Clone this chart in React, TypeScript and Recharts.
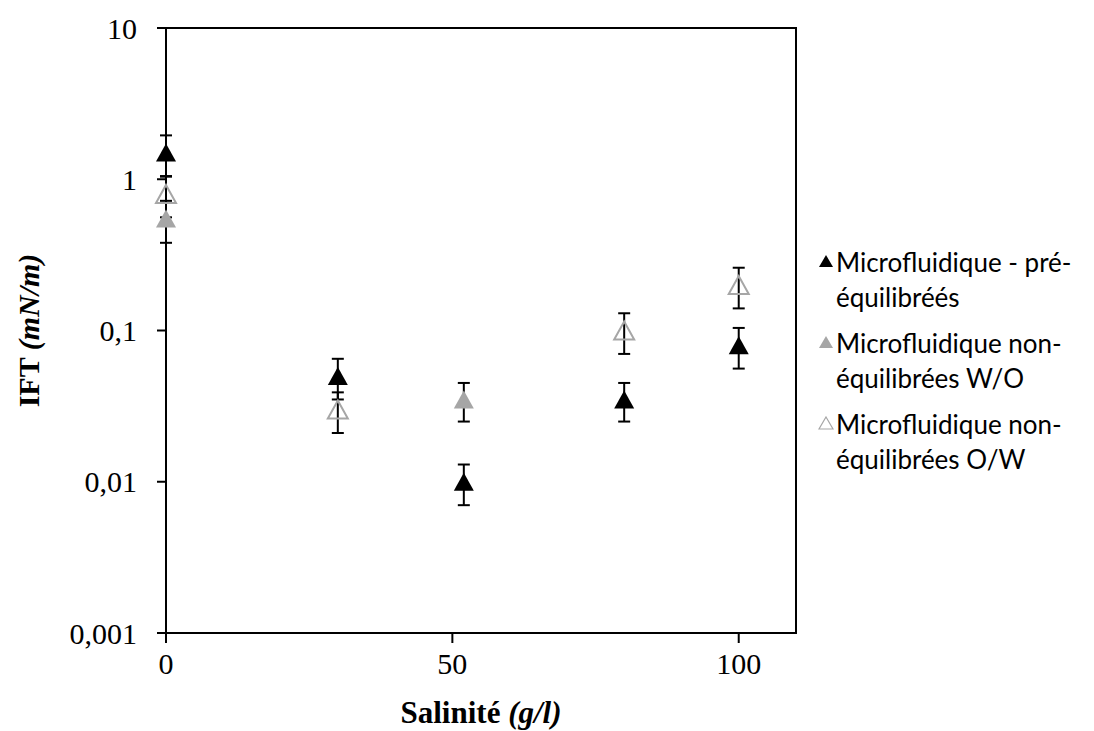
import React from 'react';
import { ScatterChart, Scatter, XAxis, YAxis, ErrorBar, ReferenceArea, Label } from 'recharts';

// salinity (g/l), IFT (mN/m), +/- error
const preX = [0, 30, 52, 80, 100];
const preY = [1.5, 0.05, 0.01, 0.035, 0.08];
const preErr = [0.45, 0.015, 0.003, 0.01, 0.024];

const woX = [0, 52];
const woY = [0.55, 0.035];
const woErr = [0.17, 0.01];

const owX = [0, 30, 80, 100];
const owY = [0.8, 0.03, 0.1, 0.2];
const owErr = [0.24, 0.009, 0.03, 0.06];

const xTicks = [0, 50, 100];
const yTicks = [0.001, 0.01, 0.1, 1, 10];

const seriesLabels = [
    ['Microfluidique - pré-', 'équilibréés'],
    ['Microfluidique non-', 'équilibrées W/O'],
    ['Microfluidique non-', 'équilibrées O/W'],
];

const SERIF = '"Liberation Serif", "Times New Roman", serif';
const SANS = 'Lato, "Open Sans", sans-serif';
const GREY = '#a6a6a6';

const toRows = (xs: number[], ys: number[], errs: number[]) =>
    xs.map((x, i) => ({ x, y: ys[i], err: errs[i] }));

const preData = toRows(preX, preY, preErr);
const woData = toRows(woX, woY, woErr);
const owData = toRows(owX, owY, owErr);

const styles = [
    { fill: '#000', stroke: 'none' },
    { fill: GREY, stroke: 'none' },
    { fill: 'none', stroke: GREY },
];

function Triangle({ cx, cy, fill, stroke }: any) {
    if (cx == null || cy == null) return null;
    const w = 20, h = 18;
    const pts = `${cx},${cy - h / 2} ${cx + w / 2},${cy + h / 2} ${cx - w / 2},${cy + h / 2}`;
    return <polygon points={pts} fill={fill} stroke={stroke} strokeWidth={stroke === 'none' ? 0 : 2} />;
}

function XTitle({ viewBox }: any) {
    const { x, y, width } = viewBox;
    return (
        <text x={x + width / 2} y={y + 90} textAnchor="middle" fontFamily={SERIF} fontWeight="bold" fontSize={31} fill="#000">
            Salinité <tspan fontStyle="italic">(g/l)</tspan>
        </text>
    );
}

function YTitle({ viewBox }: any) {
    const { y, height } = viewBox;
    const cx = 28, cy = y + height / 2;
    return (
        <text x={cx} y={cy} transform={`rotate(-90, ${cx}, ${cy})`} textAnchor="middle" dominantBaseline="central"
            fontFamily={SERIF} fontWeight="bold" fontSize={30} fill="#000">
            IFT <tspan fontStyle="italic">(mN/m)</tspan>
        </text>
    );
}

function LegendIcon({ fill, stroke }: any) {
    return (
        <svg width={16} height={14} style={{ flexShrink: 0, marginTop: 9, marginRight: 2 }}>
            <polygon points="8,1 15,13 1,13" fill={fill} stroke={stroke} strokeWidth={stroke === 'none' ? 0 : 1.2} />
        </svg>
    );
}

export default function App() {
    return (
        <div style={{ position: 'relative', width: 1094, height: 731, background: '#fff' }}>
            <style>{'body{margin:0}'}</style>
            <ScatterChart width={1094} height={731} margin={{ top: 28, right: 298, bottom: 0, left: 0 }}>
                <XAxis
                    type="number"
                    dataKey="x"
                    domain={[0, 110]}
                    ticks={xTicks}
                    tickSize={10}
                    tickMargin={10}
                    height={98}
                    axisLine={{ stroke: '#000', strokeWidth: 2 }}
                    tickLine={{ stroke: '#000', strokeWidth: 2 }}
                    tick={{ fontFamily: SERIF, fontSize: 30, fill: '#000' }}
                >
                    <Label content={<XTitle />} />
                </XAxis>
                <YAxis
                    type="number"
                    dataKey="y"
                    scale="log"
                    domain={[0.001, 10]}
                    ticks={yTicks}
                    allowDataOverflow
                    width={166}
                    tickSize={9}
                    tickMargin={20}
                    tickFormatter={(v: number) => String(v).replace('.', ',')}
                    axisLine={{ stroke: '#000', strokeWidth: 2 }}
                    tickLine={{ stroke: '#000', strokeWidth: 2 }}
                    tick={{ fontFamily: SERIF, fontSize: 30, fill: '#000' }}
                >
                    <Label content={<YTitle />} />
                </YAxis>
                <ReferenceArea x1={0} x2={110} y1={0.001} y2={10} fill="none" stroke="#000" strokeWidth={2} />
                {[preData, woData, owData].map((data, i) => (
                    <Scatter
                        key={i}
                        name={seriesLabels[i].join(' ')}
                        data={data}
                        isAnimationActive={false}
                        shape={<Triangle fill={styles[i].fill} stroke={styles[i].stroke} />}
                    >
                        <ErrorBar dataKey="err" direction="y" width={6} stroke="#000" strokeWidth={2} isAnimationActive={false} />
                    </Scatter>
                ))}
            </ScatterChart>
            <div style={{ position: 'absolute', left: 818, top: 245, fontFamily: SANS, fontSize: 26, lineHeight: '35px', color: '#000' }}>
                {seriesLabels.map((lines, i) => (
                    <div key={i} style={{ display: 'flex', marginBottom: 11 }}>
                        <LegendIcon fill={styles[i].fill} stroke={styles[i].stroke} />
                        <div>
                            {lines[0]}
                            <br />
                            {lines[1]}
                        </div>
                    </div>
                ))}
            </div>
        </div>
    );
}
